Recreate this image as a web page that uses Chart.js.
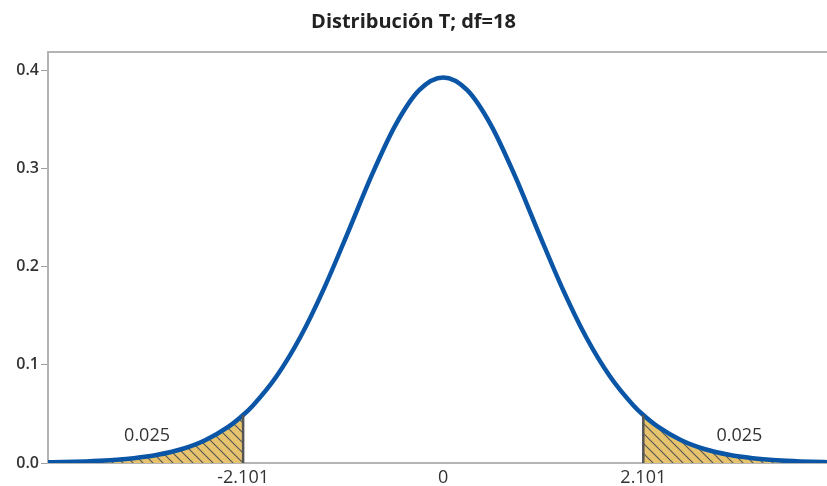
<!DOCTYPE html>
<html>
<head>
<meta charset="utf-8">
<script src="https://cdn.jsdelivr.net/npm/chart.js@4.4.1/dist/chart.umd.min.js"></script>
<style>
  html, body { margin: 0; padding: 0; background: #fff; }
  #wrap { width: 827px; height: 486px; }
</style>
</head>
<body>
<div id="wrap"><canvas id="tChart"></canvas></div>
<script>
// t values and density (df = 18)
const tValues = [-4.15, -4, -3.75, -3.5, -3.25, -3, -2.75, -2.5, -2.25, -2.101, -2, -1.75, -1.5, -1.25, -1, -0.75, -0.5, -0.25, 0,
                 0.25, 0.5, 0.75, 1, 1.25, 1.5, 1.75, 2, 2.101, 2.25, 2.5, 2.75, 3, 3.25, 3.5, 3.75, 4, 4.15];
const density = [0.0007, 0.0009, 0.0016, 0.0028, 0.0049, 0.0084, 0.0140, 0.0232, 0.0373, 0.0489, 0.0584, 0.0884, 0.1284, 0.1783, 0.2352, 0.2935, 0.3448, 0.3804, 0.3931,
                 0.3804, 0.3448, 0.2935, 0.2352, 0.1783, 0.1284, 0.0884, 0.0584, 0.0489, 0.0373, 0.0232, 0.0140, 0.0084, 0.0049, 0.0028, 0.0016, 0.0009, 0.0007];
const critical = [-2.101, 2.101];
const tailArea = ['0.025', '0.025'];
const xTicks = [-2.101, 0, 2.101];
const yTicks = [0, 0.1, 0.2, 0.3, 0.4];

const curve = tValues.map((t, i) => ({ x: t, y: density[i] }));
const leftTail = curve.filter(p => p.x <= critical[0]);
const rightTail = curve.filter(p => p.x >= critical[1]);

// hatch fill for the shaded tails
const makeHatch = () => {
    const c = document.createElement('canvas');
    c.width = 10; c.height = 10;
    const g = c.getContext('2d');
    g.fillStyle = '#e6c36c';
    g.fillRect(0, 0, 10, 10);
    g.strokeStyle = '#555';
    g.lineWidth = 1.1;
    g.beginPath();
    g.moveTo(0, 0); g.lineTo(10, 10);
    g.moveTo(-5, 5); g.lineTo(5, 15);
    g.moveTo(5, -5); g.lineTo(15, 5);
    g.stroke();
    return g.createPattern(c, 'repeat');
};
const hatch = makeHatch();

const tailDecor = {
    id: 'tailDecor',
    afterDatasetsDraw(chart) {
        const { ctx, scales: { x, y }, chartArea } = chart;
        ctx.save();
        // top frame line
        ctx.strokeStyle = '#b4b4b4';
        ctx.lineWidth = 2;
        ctx.beginPath();
        ctx.moveTo(chartArea.left, chartArea.top);
        ctx.lineTo(chartArea.right, chartArea.top);
        ctx.stroke();
        // critical lines
        ctx.strokeStyle = '#555';
        ctx.lineWidth = 2.5;
        critical.forEach(c => {
            const idx = tValues.indexOf(c);
            ctx.beginPath();
            ctx.moveTo(x.getPixelForValue(c), y.getPixelForValue(0));
            ctx.lineTo(x.getPixelForValue(c), y.getPixelForValue(density[idx]));
            ctx.stroke();
        });
        // area labels
        ctx.fillStyle = '#333';
        ctx.font = '18px "Open Sans", sans-serif';
        ctx.textAlign = 'center';
        ctx.textBaseline = 'middle';
        ctx.fillText(tailArea[0], x.getPixelForValue(-3.11), y.getPixelForValue(0.0275));
        ctx.fillText(tailArea[1], x.getPixelForValue(3.11), y.getPixelForValue(0.0275));
        ctx.restore();
    }
};

new Chart(document.getElementById('tChart'), {
    type: 'line',
    data: {
        datasets: [
            {
                data: curve,
                borderColor: '#0a55a5',
                borderWidth: 4.5,
                pointRadius: 0,
                cubicInterpolationMode: 'monotone',
                fill: false
            },
            {
                data: leftTail,
                borderWidth: 0,
                pointRadius: 0,
                cubicInterpolationMode: 'monotone',
                backgroundColor: hatch,
                fill: 'origin'
            },
            {
                data: rightTail,
                borderWidth: 0,
                pointRadius: 0,
                cubicInterpolationMode: 'monotone',
                backgroundColor: hatch,
                fill: 'origin'
            }
        ]
    },
    options: {
        responsive: true,
        maintainAspectRatio: false,
        animation: false,
        layout: { padding: { right: 0, left: 0 } },
        plugins: {
            legend: { display: false },
            tooltip: { enabled: false },
            title: {
                display: true,
                text: 'Distribución T; df=18',
                color: '#222',
                font: { family: '"Open Sans", sans-serif', size: 20, weight: 'bold', lineHeight: 1.2 },
                padding: { top: 10, bottom: 18 }
            }
        },
        scales: {
            x: {
                type: 'linear',
                min: -4.15,
                max: 4.03,
                afterBuildTicks: s => { s.ticks = xTicks.map(v => ({ value: v })); },
                afterFit: s => { s.height = 23; },
                ticks: {
                    color: '#333',
                    font: { family: '"Open Sans", sans-serif', size: 18, lineHeight: 1 },
                    padding: -2,
                    maxRotation: 0,
                    autoSkip: false,
                    callback: v => String(v)
                },
                grid: { display: false },
                border: { color: '#b4b4b4', width: 2 }
            },
            y: {
                min: 0,
                max: 0.419,
                afterBuildTicks: s => { s.ticks = yTicks.map(v => ({ value: v })); },
                afterFit: s => { s.width = 48; },
                ticks: {
                    color: '#333',
                    font: { family: '"Open Sans", sans-serif', size: 16, weight: '600' },
                    padding: 2,
                    callback: v => v.toFixed(1)
                },
                grid: { drawOnChartArea: false, drawTicks: true, tickLength: 7, color: '#a0a0a0' },
                border: { color: '#b4b4b4', width: 2 }
            }
        }
    },
    plugins: [tailDecor]
});
</script>
</body>
</html>
